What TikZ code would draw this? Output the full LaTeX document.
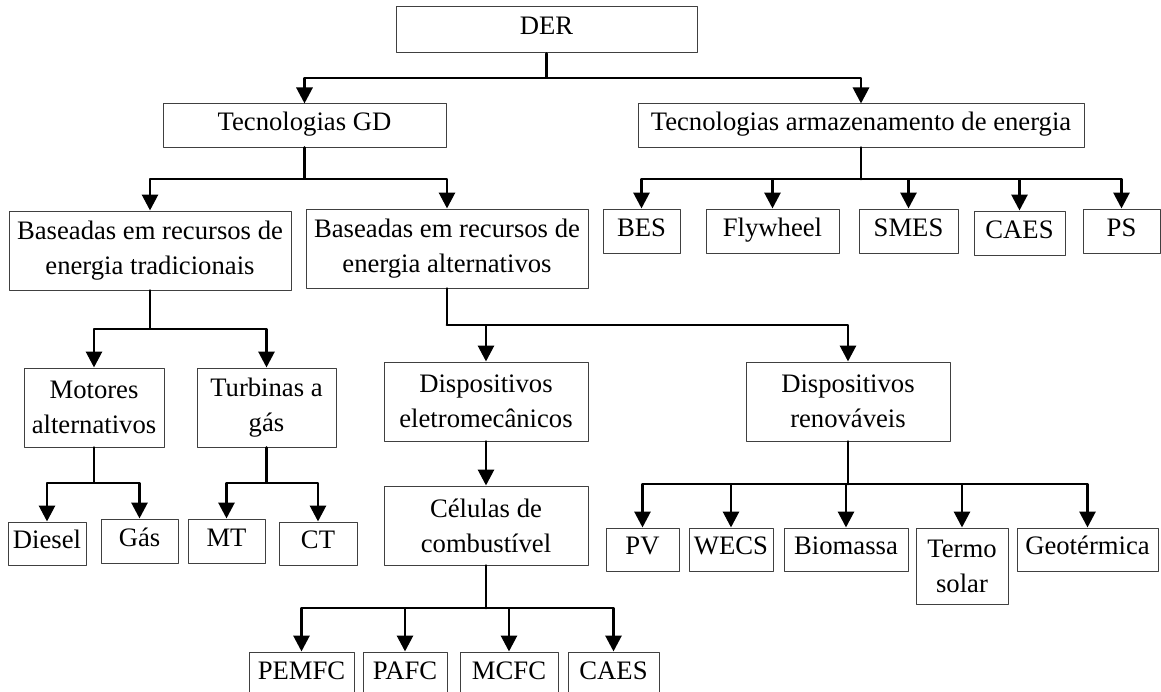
\documentclass[tikz,border=0pt]{standalone}
\usepackage{fontspec}
\setmainfont{Liberation Serif}
\usetikzlibrary{arrows.meta}

\tikzset{
  box/.style={draw=black!75, line width=0.75pt, inner sep=0pt, font=\fontsize{20}{26.25}\selectfont},
  one/.style={box, text height=13.5pt, text depth=6pt},
  two/.style={box, align=center},
  sz/.style n args={2}{minimum width=#1*0.75pt, minimum height=#2*0.75pt},
  stem/.style={black, line width=2.2pt},
  conn/.style={stem, -{Triangle[length=12pt,width=12pt]}}
}

\begin{document}
\begin{tikzpicture}[x=0.75pt,y=-0.75pt,line cap=round,line join=round]
  \useasboundingbox (0,0) rectangle (1161,692);
  \clip (0,0) rectangle (1161,692);

  % top level
  \node[one, sz={301}{46}] (der) at (546.5,30) {DER};
  \node[one, sz={283}{43}] (gd) at (304.5,125.5) {Tecnologias GD};
  \node[one, sz={446}{43}] (arm) at (861,125.5) {Tecnologias armazenamento de energia};

  % second level
  \node[two, sz={282}{79}] (trad) at (150,250.5) {Baseadas em recursos de\\energia tradicionais};
  \node[two, sz={282}{79}] (alt) at (447,248.5) {Baseadas em recursos de\\energia alternativos};

  % storage technologies
  \node[one, sz={77}{44}] (bes) at (641.5,231) {BES};
  \node[one, sz={133}{44}] (fly) at (772.5,231) {Flywheel};
  \node[one, sz={99}{44}] (smes) at (908.5,231) {SMES};
  \node[one, sz={91}{44}] (caes) at (1019.5,233) {CAES};
  \node[one, sz={77}{44}] (ps) at (1121.5,231) {PS};

  % traditional resources
  \node[two, sz={140}{79}] (mot) at (94,407.5) {Motores\\alternativos};
  \node[two, sz={139}{79}] (tur) at (266.5,407.5) {Turbinas a\\gás};
  \node[one, sz={78}{43}] (diesel) at (47,543.5) {Diesel};
  \node[one, sz={77}{44}] (gas) at (139.5,541) {Gás};
  \node[one, sz={77}{44}] (mt) at (226.5,541) {MT};
  \node[one, sz={78}{43}] (ct) at (318,543.5) {CT};

  % alternative resources
  \node[two, sz={204}{79}] (ele) at (486,401.5) {Dispositivos\\eletromecânicos};
  \node[two, sz={204}{79}] (cel) at (486,525.5) {Células de\\combustível};
  \node[two, sz={204}{79}] (ren) at (848,401.5) {Dispositivos\\renováveis};

  % fuel cells
  \node[one, sz={105}{44}] (pemfc) at (301.5,674) {PEMFC};
  \node[one, sz={84}{44}] (pafc) at (405,674) {PAFC};
  \node[one, sz={98}{44}] (mcfc) at (509,674) {MCFC};
  \node[one, sz={91}{44}] (caesb) at (613.5,674) {CAES};

  % renewable devices
  \node[one, sz={73}{43}] (pv) at (642.5,549.5) {PV};
  \node[one, sz={84}{43}] (wecs) at (731,549.5) {WECS};
  \node[one, sz={124}{43}] (bio) at (846,549.5) {Biomassa};
  \node[two, sz={92}{76}] (termo) at (962,566) {Termo\\solar};
  \node[one, sz={141}{43}] (geo) at (1087.5,549.5) {Geotérmica};

  % branch points
  \coordinate (jder) at (546.5,78);
  \coordinate (jgd) at (304.5,179);
  \coordinate (jarm) at (861,179);
  \coordinate (jtrad) at (150,329);
  \coordinate (jalt) at (447,325);
  \coordinate (jmot) at (94,483);
  \coordinate (jtur) at (266.5,483);
  \coordinate (jcel) at (486,608);
  \coordinate (jren) at (848,484);

  % connectors
  \draw[conn] (der.south) -- (jder) -| (gd.north);
  \draw[conn] (jder) -| (arm.north);
  \draw[conn] (gd.south) -- (jgd) -| (trad.north);
  \draw[conn] (jgd) -| (alt.north);
  \draw[stem] (arm.south) -- (jarm);
  \foreach \c in {bes,fly,smes,caes,ps}{
    \draw[conn] (jarm) -| (\c.north);
  }
  \draw[conn] (trad.south) -- (jtrad) -| (mot.north);
  \draw[conn] (jtrad) -| (tur.north);
  \draw[conn] (mot.south) -- (jmot) -| (diesel.north);
  \draw[conn] (jmot) -| (gas.north);
  \draw[conn] (tur.south) -- (jtur) -| (mt.north);
  \draw[conn] (jtur) -| (ct.north);
  \draw[conn] (alt.south) -- (jalt) -| (ele.north);
  \draw[conn] (jalt) -| (ren.north);
  \draw[conn] (ele.south) -- (cel.north);
  \draw[stem] (cel.south) -- (jcel);
  \foreach \c in {pemfc,pafc,mcfc,caesb}{
    \draw[conn] (jcel) -| (\c.north);
  }
  \draw[stem] (ren.south) -- (jren);
  \foreach \c in {pv,wecs,bio,termo,geo}{
    \draw[conn] (jren) -| (\c.north);
  }
\end{tikzpicture}
\end{document}
